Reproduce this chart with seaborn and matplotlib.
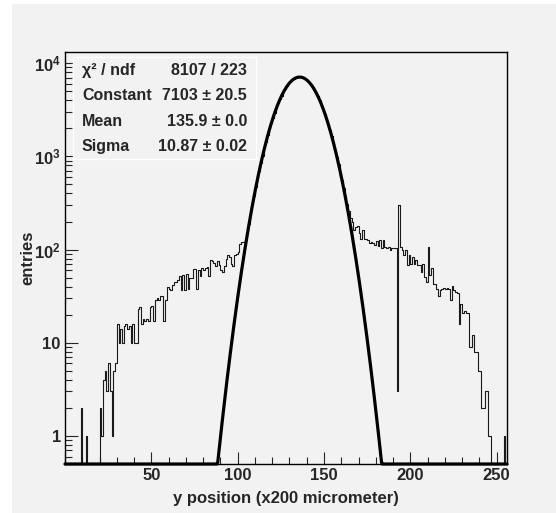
import numpy as np
import pandas as pd
import matplotlib
matplotlib.use("Agg")
import matplotlib.pyplot as plt
import seaborn as sns
from matplotlib.patches import Rectangle
from matplotlib.ticker import MultipleLocator, LogLocator, FixedLocator, FixedFormatter, NullFormatter

# histogram: 256 bins of width 1 from 0 to 256
left_tail = [
    0, 0, 0, 0, 0, 0, 0, 0, 0, 2, 0, 0, 1, 0, 0, 0, 0, 0, 0, 0,
    2, 1, 4, 5, 3, 6, 3, 1, 5, 6, 16, 10, 14, 10, 15, 16, 14, 15, 10, 16,
    10, 10, 23, 24, 16, 18, 17, 18, 17, 24, 25, 17, 29, 30, 29, 32, 32, 17, 29, 40,
    38, 37, 42, 45, 45, 47, 52, 37, 53, 37, 55, 38, 50, 50, 62, 62, 38, 60, 52, 63,
    60, 63, 65, 52, 77, 75, 72, 66, 75, 68, 60, 58, 66, 80, 87, 84, 70, 67, 87, 90,
    94, 116, 120, 120, 130,
]
core = [
    150, 190, 240, 300, 375, 465, 575, 700, 850, 1020,
    1220, 1440, 1690, 1970, 2280, 2600, 2950, 3320, 3700, 4100,
    4490, 4890, 5270, 5630, 5970, 6280, 6540, 6760, 6930, 7040,
    7100, 7090, 7030, 6900, 6720, 6500, 6220, 5910, 5560, 5190,
    4810, 4420, 4020, 3630, 3250, 2880, 2540, 2210, 1920, 1640,
    1400, 1180, 990, 820, 680, 560, 460, 380, 310, 260,
    220,
]
right_tail = [
    198, 161, 175, 177, 149, 131, 164, 131, 131, 128, 118, 121, 118, 113, 125, 110,
    128, 103, 128, 106, 103, 106, 100, 104, 104, 104, 3, 300, 106, 98, 87, 98,
    68, 87, 70, 84, 70, 77, 68, 68, 58, 70, 51, 45, 106, 53, 63, 43, 43, 38,
    32, 37, 38, 39, 38, 39, 38, 29, 41, 37, 35, 34, 16, 26, 21, 22, 21, 21,
    9, 9, 12, 8, 8, 5, 5, 2, 2, 3, 3, 1, 1, 0, 0, 0, 0, 0, 0, 0, 1, 0,
]

# gaus fit results shown in the stats box
fit_constant = 7103.0
fit_mean = 135.9
fit_sigma = 10.87
stat_names = ["\u03c7\u00b2 / ndf", "Constant", "Mean", "Sigma"]
stat_values = ["8107 / 223", "7103 \u00b1 20.5", "135.9 \u00b1 0.0", "10.87 \u00b1 0.02"]

x_ticks = [50, 100, 150, 200, 250]
y_ticks = [1, 10, 100, 1000, 10000]
y_tick_labels = ["1", "10", "$10^{2}$", "$10^{3}$", "$10^{4}$"]

counts = np.array(left_tail + core + right_tail, dtype=float)
df = pd.DataFrame({"pos": np.arange(len(counts)) + 0.5, "n": counts})

sns.set_style("ticks")
plt.rcParams["font.family"] = ["Liberation Sans", "DejaVu Sans"]
plt.rcParams["font.weight"] = "bold"
plt.rcParams["mathtext.fontset"] = "custom"
plt.rcParams["mathtext.rm"] = "Liberation Sans:bold"
plt.rcParams["mathtext.it"] = "Liberation Sans:bold"
plt.rcParams["mathtext.bf"] = "Liberation Sans:bold"
plt.rcParams["mathtext.default"] = "rm"

GRAY = "#f2f2f2"
W, H = 556, 513

fig = plt.figure(figsize=(W / 100, H / 100), dpi=100)
fig.patch.set_facecolor("white")
fig.patches.append(Rectangle((12 / W, 0), 1 - 12 / W, 1 - 4 / H, transform=fig.transFigure,
                             facecolor=GRAY, edgecolor="none", zorder=-10))

ax = fig.add_axes([65 / W, 1 - 464 / H, 442 / W, 412 / H])
ax.set_facecolor(GRAY)

sns.histplot(data=df, x="pos", weights="n", bins=256, binrange=(0, 256),
             element="step", fill=False, color="#1a1a1a", linewidth=0.8, ax=ax)
ax.set_yscale("log")

ymin, ymax = 0.5, 13200
xs = np.linspace(0, 256, 600)
fit = fit_constant * np.exp(-0.5 * ((xs - fit_mean) / fit_sigma) ** 2)
sns.lineplot(x=xs, y=np.clip(fit, ymin, None), color="black", linewidth=2.3, ax=ax)
ax.lines[-1].set_clip_on(False)

ax.set_xlim(0, 256)
ax.set_ylim(ymin, ymax)

ax.xaxis.set_major_locator(FixedLocator(x_ticks))
ax.xaxis.set_minor_locator(MultipleLocator(10))
ax.yaxis.set_major_locator(FixedLocator(y_ticks))
ax.yaxis.set_major_formatter(FixedFormatter(y_tick_labels))
ax.yaxis.set_minor_locator(LogLocator(base=10, subs=np.arange(2, 10)))
ax.yaxis.set_minor_formatter(NullFormatter())
ax.tick_params(axis="both", which="major", direction="in", length=9, width=0.8,
               labelsize=12, pad=3, top=False, right=False)
ax.tick_params(axis="both", which="minor", direction="in", length=5, width=0.8,
               top=False, right=False)
for sp in ax.spines.values():
    sp.set_linewidth(1.0)
    sp.set_color("black")

ax.set_xlabel("y position (x200 micrometer)", fontsize=12, fontweight="bold")
ax.set_ylabel("entries", fontsize=12, fontweight="bold")
ax.xaxis.set_label_coords(0.5, (464 - 498) / 412)
ax.xaxis.label.set_verticalalignment("center")
ax.yaxis.set_label_coords((28 - 65) / 442, 0.5)
ax.yaxis.label.set_verticalalignment("center")

# stats box
fig.patches.append(Rectangle((73 / W, 1 - 159 / H), (256 - 73) / W, (159 - 57) / H,
                             transform=fig.transFigure, facecolor=GRAY,
                             edgecolor="white", linewidth=1.0, zorder=5))
for i, (name, val) in enumerate(zip(stat_names, stat_values)):
    yy = 1 - (70.7 + 25.3 * i) / H
    fig.text(82 / W, yy, name, ha="left", va="center", fontsize=11.5, fontweight="bold", zorder=6)
    fig.text(247 / W, yy, val, ha="right", va="center", fontsize=11.5, fontweight="bold", zorder=6)

fig.savefig("out.png", dpi=100, facecolor=fig.get_facecolor())
